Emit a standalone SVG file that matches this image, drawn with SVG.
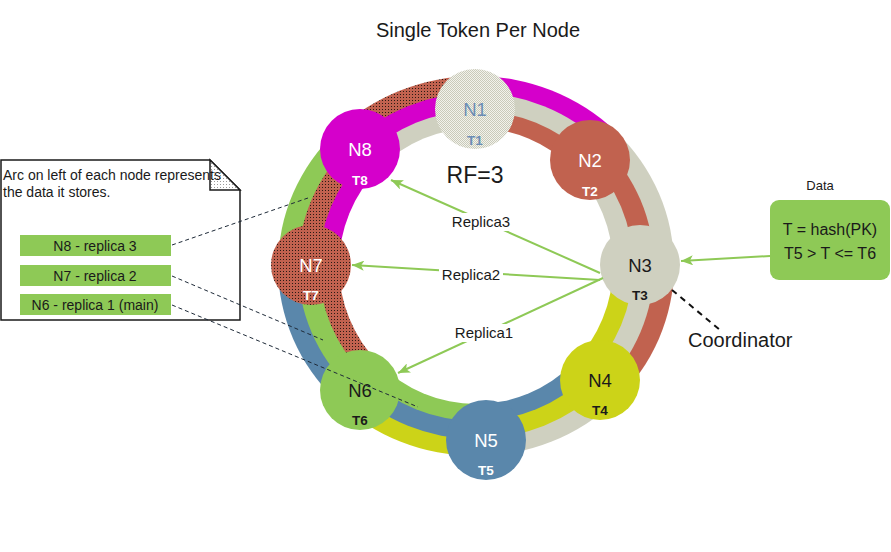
<svg xmlns="http://www.w3.org/2000/svg" width="891" height="552" viewBox="0 0 891 552">
<defs>
<style>
text{font-family:"Liberation Sans",Arial,Helvetica,sans-serif;}
.nl{font-size:18.5px;text-anchor:middle}
.tl{font-size:13.5px;font-weight:bold;text-anchor:middle}
.wt{fill:#ffffff}
.dk{fill:#1a1a1a}
.bl{fill:#6b8db5}
.lbl{font-size:15px;text-anchor:middle;fill:#1a1a1a}
.arr{stroke:#8ec956;stroke-width:2;fill:none;marker-end:url(#ah)}
.dash{stroke:#1e2a38;stroke-width:1;stroke-dasharray:4 3;fill:none}
.mag{fill:#d500cb}
.brn{fill:#c1624f}
.gry{fill:#cfd0c0}
.yel{fill:#ccd318}
.blu{fill:#5a87ab}
.grn{fill:#8ec956}
.bdot{fill:url(#dotBrown)}
.lgry{fill:url(#lightGray)}
.gbox{fill:#8ec956}
</style>
<pattern id="dotBrown" width="3" height="3" patternUnits="userSpaceOnUse"><rect width="3" height="3" fill="#c1624f"/><rect x="1" y="1" width="1" height="1" fill="#2a1a14"/></pattern>
<pattern id="lightGray" width="2" height="2" patternUnits="userSpaceOnUse"><rect width="2" height="2" fill="#f2f2ec"/><rect width="1" height="1" fill="#c9cab9"/><rect x="1" y="1" width="1" height="1" fill="#c9cab9"/></pattern>
<pattern id="foldDots" width="3" height="3" patternUnits="userSpaceOnUse"><rect width="3" height="3" fill="#ffffff"/><rect x="1" y="1" width="1" height="1" fill="#9a9a9a"/></pattern>
<marker id="ah" viewBox="0 0 12 10" refX="12" refY="5" markerWidth="12" markerHeight="10" markerUnits="userSpaceOnUse" orient="auto"><path d="M0,0 L12,5 L0,10 L3,5 z" fill="#8ec956"/></marker>
<clipPath id="w12"><polygon points="476,266 474,6 666,89"/></clipPath>
<clipPath id="w23"><polygon points="476,266 666,89 736,264"/></clipPath>
<clipPath id="w34"><polygon points="476,266 736,264 667,442"/></clipPath>
<clipPath id="w45"><polygon points="476,266 667,442 491,526"/></clipPath>
<clipPath id="w56"><polygon points="476,266 491,526 298,456"/></clipPath>
<clipPath id="w67"><polygon points="476,266 298,456 216,264"/></clipPath>
<clipPath id="w78"><polygon points="476,266 216,264 293,81"/></clipPath>
<clipPath id="w81"><polygon points="476,266 293,81 474,6"/></clipPath>
</defs>
<rect width="891" height="552" fill="#ffffff"/>

<text x="478" y="37" font-size="20" text-anchor="middle" fill="#1a1a1a">Single Token Per Node</text>

<g id="ring">
<g clip-path="url(#w12)"><ellipse cx="476" cy="266" rx="198" ry="190" class="mag"/><ellipse cx="476" cy="266" rx="178" ry="173" class="gry"/><ellipse cx="476" cy="266" rx="157" ry="155" class="brn"/></g>
<g clip-path="url(#w23)"><ellipse cx="476" cy="266" rx="198" ry="190" class="gry"/><ellipse cx="476" cy="266" rx="178" ry="173" class="brn"/><ellipse cx="476" cy="266" rx="157" ry="155" class="gry"/></g>
<g clip-path="url(#w34)"><ellipse cx="476" cy="266" rx="198" ry="190" class="brn"/><ellipse cx="476" cy="266" rx="178" ry="173" class="gry"/><ellipse cx="476" cy="266" rx="157" ry="155" class="yel"/></g>
<g clip-path="url(#w45)"><ellipse cx="476" cy="266" rx="198" ry="190" class="gry"/><ellipse cx="476" cy="266" rx="178" ry="173" class="yel"/><ellipse cx="476" cy="266" rx="157" ry="155" class="blu"/></g>
<g clip-path="url(#w56)"><ellipse cx="476" cy="266" rx="198" ry="190" class="yel"/><ellipse cx="476" cy="266" rx="178" ry="173" class="blu"/><ellipse cx="476" cy="266" rx="157" ry="155" class="grn"/></g>
<g clip-path="url(#w67)"><ellipse cx="476" cy="266" rx="198" ry="190" class="blu"/><ellipse cx="476" cy="266" rx="178" ry="173" class="grn"/><ellipse cx="476" cy="266" rx="157" ry="155" class="bdot"/></g>
<g clip-path="url(#w78)"><ellipse cx="476" cy="266" rx="198" ry="190" class="grn"/><ellipse cx="476" cy="266" rx="178" ry="173" class="bdot"/><ellipse cx="476" cy="266" rx="157" ry="155" class="mag"/></g>
<g clip-path="url(#w81)"><ellipse cx="476" cy="266" rx="198" ry="190" class="bdot"/><ellipse cx="476" cy="266" rx="178" ry="173" class="mag"/><ellipse cx="476" cy="266" rx="157" ry="155" class="gry"/></g>
<ellipse cx="476" cy="266" rx="137" ry="138" fill="#ffffff"/>
</g>

<text x="475" y="183" font-size="23" text-anchor="middle" fill="#1a1a1a">RF=3</text>

<g id="node-N1"><circle cx="475" cy="109" r="40" class="lgry"/><text x="475" y="116" class="nl bl">N1</text><text x="475" y="145" class="tl bl">T1</text></g>
<g id="node-N2"><circle cx="590" cy="160" r="40" class="brn"/><text x="590" y="167" class="nl wt">N2</text><text x="590" y="196" class="tl wt">T2</text></g>
<g id="node-N3"><circle cx="640" cy="265" r="40" class="gry"/><text x="640" y="272" class="nl dk">N3</text><text x="640" y="300" class="tl dk">T3</text></g>
<g id="node-N4"><circle cx="600" cy="380" r="40" class="yel"/><text x="600" y="387" class="nl dk">N4</text><text x="600" y="415" class="tl dk">T4</text></g>
<g id="node-N5"><circle cx="486" cy="440" r="40" class="blu"/><text x="486" y="447" class="nl wt">N5</text><text x="486" y="475" class="tl wt">T5</text></g>
<g id="node-N6"><circle cx="360" cy="390" r="40" class="grn"/><text x="360" y="397" class="nl dk">N6</text><text x="360" y="425" class="tl dk">T6</text></g>
<g id="node-N7"><circle cx="311" cy="265" r="40" class="bdot"/><text x="311" y="272" class="nl wt">N7</text><text x="311" y="300" class="tl wt">T7</text></g>
<g id="node-N8"><circle cx="360" cy="149" r="40" class="mag"/><text x="360" y="156" class="nl wt">N8</text><text x="360" y="185" class="tl wt">T8</text></g>

<g id="note">
<path d="M1,160 L210,160 L240,190 L240,320 L1,320 Z" fill="#ffffff" stroke="#1a1a1a" stroke-width="1.5"/>
<path d="M210,160 L210,190 L240,190 Z" fill="url(#foldDots)" stroke="#1a1a1a" stroke-width="1.5"/>
<text x="3" y="180" font-size="14" fill="#1a1a1a">Arc on left of each node represents</text>
<text x="3" y="197" font-size="14" fill="#1a1a1a">the data it stores.</text>
<rect x="20" y="235" width="151" height="21" class="gbox"/>
<text x="95" y="250.5" font-size="14" text-anchor="middle" fill="#1a1a1a">N8 - replica 3</text>
<rect x="20" y="265" width="151" height="21" class="gbox"/>
<text x="95" y="280.5" font-size="14" text-anchor="middle" fill="#1a1a1a">N7 - replica 2</text>
<rect x="20" y="294" width="151" height="21" class="gbox"/>
<text x="95" y="309.5" font-size="14" text-anchor="middle" fill="#1a1a1a">N6 - replica 1 (main)</text>
</g>

<g id="connectors">
<line x1="600" y1="273" x2="391" y2="180" class="arr"/>
<line x1="600" y1="280" x2="352" y2="265" class="arr"/>
<line x1="603" y1="278" x2="398" y2="373" class="arr"/>
<line x1="770" y1="256" x2="681" y2="261" class="arr"/>
<line x1="672" y1="290" x2="720" y2="330" stroke="#111111" stroke-width="2" stroke-dasharray="6 5"/>
<line x1="172" y1="245" x2="308" y2="198" class="dash"/>
<line x1="172" y1="276" x2="323" y2="340" class="dash"/>
<line x1="172" y1="305" x2="418" y2="407" class="dash"/>
</g>

<g id="replica-labels">
<rect x="449" y="213" width="64" height="18" fill="#ffffff"/>
<text x="481" y="227" class="lbl">Replica3</text>
<rect x="439" y="266" width="64" height="18" fill="#ffffff"/>
<text x="471" y="280" class="lbl">Replica2</text>
<rect x="452" y="324" width="64" height="18" fill="#ffffff"/>
<text x="484" y="338" class="lbl">Replica1</text>
</g>

<g id="data">
<text x="820" y="190" font-size="13" text-anchor="middle" fill="#1a1a1a">Data</text>
<rect x="770" y="200" width="120" height="80" rx="9" class="gbox"/>
<text x="830" y="235" font-size="16" text-anchor="middle" fill="#1a1a1a">T = hash(PK)</text>
<text x="830" y="259" font-size="16" text-anchor="middle" fill="#1a1a1a">T5 &gt; T &lt;= T6</text>
</g>

<g id="coordinator"><text x="688" y="347" font-size="20" fill="#1a1a1a">Coordinator</text></g>
</svg>
